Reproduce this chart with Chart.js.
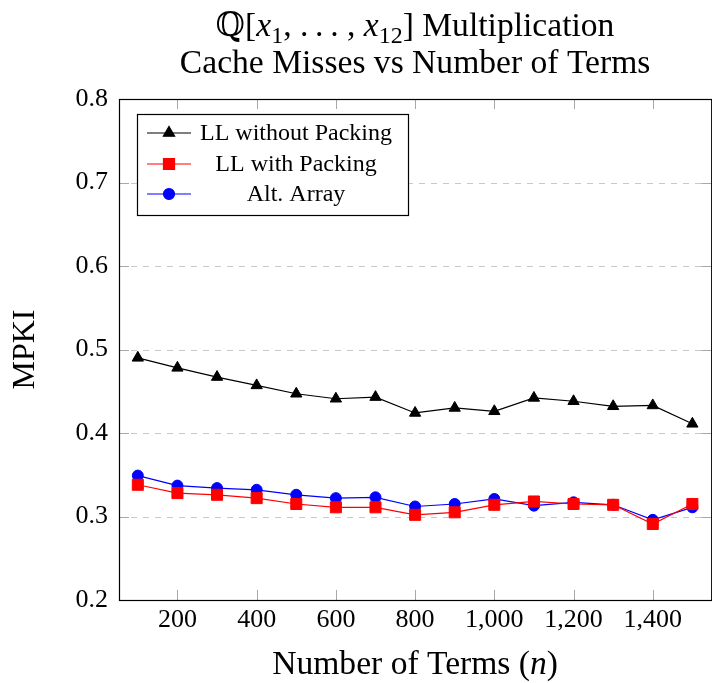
<!DOCTYPE html>
<html>
<head>
<meta charset="utf-8">
<style>
  html, body { margin: 0; padding: 0; overflow: hidden; background: #fff; }
  canvas { display: block; }
</style>
<script src="https://cdn.jsdelivr.net/npm/chart.js@4.4.0/dist/chart.umd.min.js"></script>
</head>
<body>
<canvas id="chart" width="720" height="683"></canvas>
<script>
// Number of terms in each operand
const terms = [100, 200, 300, 400, 500, 600, 700, 800, 900, 1000, 1100, 1200, 1300, 1400, 1500];

// Misses per kilo-instruction for each implementation
const llWithoutPacking = [0.490, 0.478, 0.467, 0.457, 0.447, 0.441, 0.443, 0.424, 0.430, 0.426, 0.442, 0.438, 0.432, 0.433, 0.411];
const llWithPacking    = [0.338, 0.328, 0.326, 0.322, 0.315, 0.311, 0.311, 0.302, 0.305, 0.314, 0.318, 0.315, 0.314, 0.291, 0.315];
const altArray         = [0.349, 0.337, 0.334, 0.332, 0.326, 0.322, 0.323, 0.312, 0.315, 0.321, 0.313, 0.317, 0.314, 0.296, 0.311];

// Tick positions
const xTicks = [200, 400, 600, 800, 1000, 1200, 1400];
const yTicks = [0.2, 0.3, 0.4, 0.5, 0.6, 0.7, 0.8];

const FONT = '"Liberation Serif", "DejaVu Serif", serif';

const toPoints = ys => terms.map((t, i) => ({ x: t, y: ys[i] }));

// Grid, inward tick marks and the axis frame
const framePlugin = {
  id: 'frame',
  beforeDatasetsDraw(chart) {
    const { ctx, chartArea: a, scales: { x, y } } = chart;
    ctx.save();
    ctx.lineWidth = 1;
    ctx.strokeStyle = '#c8c8c8';
    ctx.setLineDash([6, 6]);
    yTicks.forEach(v => {
      if (v <= y.min || v >= y.max) return;
      const py = Math.round(y.getPixelForValue(v)) + 0.5;
      ctx.beginPath(); ctx.moveTo(a.left, py); ctx.lineTo(a.right, py); ctx.stroke();
    });
    ctx.setLineDash([]);
    ctx.strokeStyle = '#a8a8a8';
    xTicks.forEach(v => {
      const px = Math.round(x.getPixelForValue(v)) + 0.5;
      ctx.beginPath();
      ctx.moveTo(px, a.bottom); ctx.lineTo(px, a.bottom - 10);
      ctx.moveTo(px, a.top); ctx.lineTo(px, a.top + 10);
      ctx.stroke();
    });
    yTicks.forEach(v => {
      if (v <= y.min || v >= y.max) return;
      const py = Math.round(y.getPixelForValue(v)) + 0.5;
      ctx.beginPath();
      ctx.moveTo(a.left, py); ctx.lineTo(a.left + 10, py);
      ctx.moveTo(a.right, py); ctx.lineTo(a.right - 10, py);
      ctx.stroke();
    });
    ctx.strokeStyle = '#000';
    ctx.lineWidth = 1.2;
    ctx.strokeRect(a.left + 0.5, a.top + 0.5, a.right - a.left, a.bottom - a.top);
    ctx.restore();
  }
};

// Draws a run of text pieces (plain, italic, subscript) centred on cx
function drawRuns(ctx, runs, cx, baseline, size) {
  const fontFor = r => (r.italic ? 'italic ' : '') + (r.sub ? Math.round(size * 0.7) : size) + 'px ' + FONT;
  let total = 0;
  runs.forEach(r => { ctx.font = fontFor(r); r.w = ctx.measureText(r.t).width; total += r.w; });
  let x = cx - total / 2;
  ctx.textAlign = 'left';
  ctx.textBaseline = 'alphabetic';
  runs.forEach(r => {
    ctx.font = fontFor(r);
    ctx.fillText(r.t, x, baseline + (r.sub ? size * 0.2 : 0));
    x += r.w;
  });
}

// Title, axis titles and legend
const textPlugin = {
  id: 'texts',
  afterDraw(chart) {
    const { ctx, chartArea: a } = chart;
    const cx = (a.left + a.right) / 2;
    ctx.save();
    ctx.fillStyle = '#000';
    drawRuns(ctx, [
      { t: 'ℚ[' }, { t: 'x', italic: true }, { t: '1', sub: true },
      { t: ', .\u2009.\u2009. , ' }, { t: 'x', italic: true }, { t: '12', sub: true },
      { t: '] Multiplication' }
    ], cx, 36, 33.6);
    drawRuns(ctx, [{ t: 'Cache Misses vs Number of Terms' }], cx, 73, 33.6);
    drawRuns(ctx, [{ t: 'Number of Terms (' }, { t: 'n', italic: true }, { t: ')' }], cx, 674, 33.6);

    ctx.save();
    ctx.translate(26, (a.top + a.bottom) / 2);
    ctx.rotate(-Math.PI / 2);
    ctx.font = '32px ' + FONT;
    ctx.textAlign = 'center';
    ctx.textBaseline = 'middle';
    ctx.fillText('MPKI', 0, 0);
    ctx.restore();

    // Legend
    const box = { x: 137.5, y: 114.5, w: 271, h: 101 };
    ctx.fillStyle = '#fff';
    ctx.fillRect(box.x, box.y, box.w, box.h);
    ctx.strokeStyle = '#000';
    ctx.lineWidth = 1.2;
    ctx.strokeRect(box.x, box.y, box.w, box.h);
    const rows = [133, 164, 194];
    chart.data.datasets.forEach((ds, i) => {
      const ry = rows[i];
      ctx.strokeStyle = ds.borderColor;
      ctx.lineWidth = ds.borderWidth;
      ctx.beginPath(); ctx.moveTo(147, ry); ctx.lineTo(191, ry); ctx.stroke();
      ctx.fillStyle = ds.backgroundColor;
      Chart.helpers.drawPoint(ctx, {
        pointStyle: ds.pointStyle, radius: ds.pointRadius, borderWidth: 1, rotation: 0
      }, 169, ry);
      ctx.fillStyle = '#000';
      ctx.font = '24px ' + FONT;
      ctx.textAlign = 'center';
      ctx.textBaseline = 'middle';
      ctx.fillText(ds.label, 296, ry + 1);
    });
    ctx.restore();
  }
};

new Chart(document.getElementById('chart'), {
  type: 'line',
  data: {
    datasets: [
      { label: 'LL without Packing', data: toPoints(llWithoutPacking), borderColor: '#000000', backgroundColor: '#000000',
        pointStyle: 'triangle', pointRadius: 6.5, borderWidth: 1.2, pointBorderWidth: 1 },
      { label: 'LL with Packing', data: toPoints(llWithPacking), borderColor: '#ff0000', backgroundColor: '#ff0000',
        pointStyle: 'rect', pointRadius: 7.8, borderWidth: 1.2, pointBorderWidth: 1 },
      { label: 'Alt. Array', data: toPoints(altArray), borderColor: '#0000ff', backgroundColor: '#0000ff',
        pointStyle: 'circle', pointRadius: 5.5, borderWidth: 1.2, pointBorderWidth: 1 }
    ]
  },
  options: {
    responsive: false,
    devicePixelRatio: 1,
    animation: false,
    events: [],
    layout: { padding: { top: 99, left: 0, right: 3, bottom: 0 } },
    elements: { line: { tension: 0 } },
    plugins: { legend: { display: false }, title: { display: false }, tooltip: { enabled: false } },
    scales: {
      x: {
        type: 'linear', min: 52.5, max: 1547.5,
        afterBuildTicks: s => { s.ticks = xTicks.map(v => ({ value: v })); },
        afterFit: s => { s.height = 83; },
        grid: { display: false, drawTicks: false },
        border: { display: false },
        ticks: {
          autoSkip: false, maxRotation: 0, padding: 5, color: '#000',
          font: { family: FONT, size: 26 },
          callback: v => Number(v).toLocaleString('en-US')
        }
      },
      y: {
        type: 'linear', min: 0.2, max: 0.8,
        afterBuildTicks: s => { s.ticks = yTicks.map(v => ({ value: v })); },
        afterFit: s => { s.width = 119; },
        grid: { display: false, drawTicks: false },
        border: { display: false },
        ticks: {
          autoSkip: false, padding: 11, color: '#000',
          font: { family: FONT, size: 26 },
          callback: v => Number(v).toFixed(1)
        }
      }
    }
  },
  plugins: [framePlugin, textPlugin]
});
</script>
</body>
</html>
